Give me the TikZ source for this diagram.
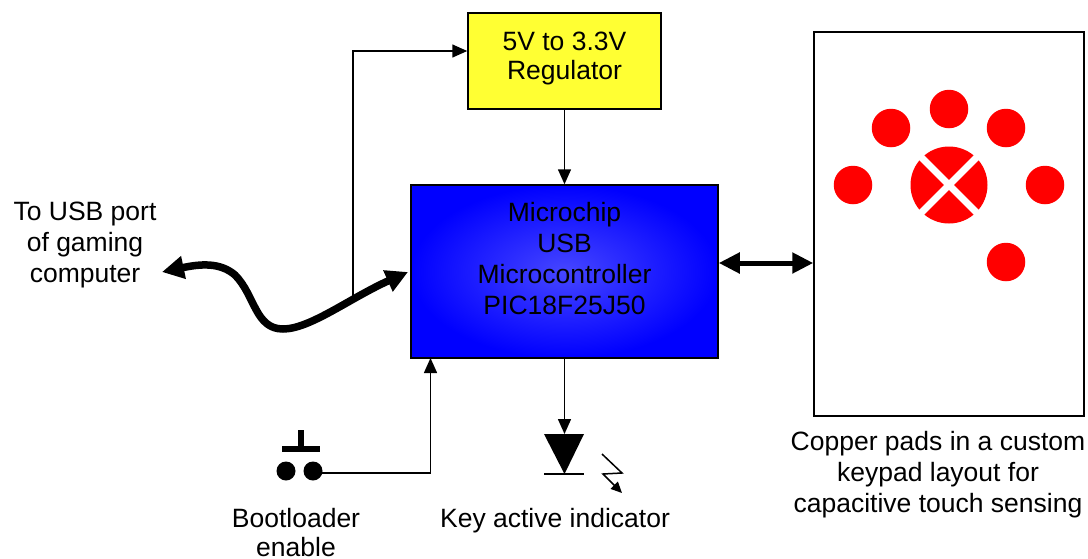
\documentclass[tikz,border=0pt]{standalone}
\usepackage{fontspec}
\setmainfont{Liberation Sans}
\usetikzlibrary{calc}
\usetikzlibrary{arrows.meta}

\begin{document}
\begin{tikzpicture}[x=1pt, y=-1pt,
        every node/.style={font=\fontsize{26.5}{31}\selectfont},
        box/.style={rectangle, draw=black, line width=1.5pt, inner sep=0pt},
        caption/.style={align=center, inner sep=0pt},
        pad/.style={circle, fill=red, inner sep=0pt, minimum size=38.5pt},
        thin tip/.style={line width=1.5pt, -{Triangle[length=15pt, width=13pt]}}]
            \useasboundingbox (0, 0) rectangle (1088, 558);
            \node[box, fill={rgb,255:red,255;green,255;blue,51}, minimum width=193pt, minimum height=96pt] (regulator) at (564.5, 61) {};
            \node[caption] (regulatortext) at ($(regulator.center) - (0, 3)$) {5V to 3.3V\\[-2pt]Regulator};
            \node[box, inner color={rgb,255:red,70;green,70;blue,255}, outer color=blue, minimum width=307pt, minimum height=173pt] (mcu) at (564.5, 271.5) {};
            \node[caption] (mcutext) at ($(mcu.center) - (0, 13)$) {Microchip\\USB\\Microcontroller\\PIC18F25J50};
            \node[box, minimum width=270pt, minimum height=384pt] (keypad) at (949, 224) {};

            \def\Pads{853/185, 891/128, 949/109, 1006/128, 1045/185, 1006/262}
            \foreach \x/\y[count=\i from 1] in \Pads
            {
                \node[pad] (pad\i) at (\x, \y) {};
            }
            \node[pad, minimum size=77pt] (keys) at (949, 185) {};
            \draw[white, line width=7pt] ($(keys) + (-32, -32)$) -- ($(keys) + (32, 32)$);
            \draw[white, line width=7pt] ($(keys) + (-32, 32)$) -- ($(keys) + (32, -32)$);

            \node[caption] (usblabel) at (85, 245) {To USB port\\of gaming\\computer};
            \node[caption] (keypadlabel) at (938, 475) {Copper pads in a custom\\keypad layout for\\capacitive touch sensing};
            \node[caption] (bootlabel) at (296, 533) {Bootloader\\[-2pt]enable};
            \node[caption] (ledlabel) at (555, 521) {Key active indicator};

            \coordinate (usbend) at (162, 272);
            \coordinate (mcuin) at (408, 272);
            \coordinate (usbtap) at (353, 296);
            \coordinate (usbbend) at (353, 51);
            \draw[line width=7.5pt, {Triangle[length=22pt, width=22pt]}-{Triangle[length=22pt, width=22pt]}] (usbend) .. controls (200, 264) and (220, 262) .. (235, 275) .. controls (255, 295) and (255, 329) .. (283, 329) .. controls (310, 329) and (350, 298) .. (mcuin);
            \draw[thin tip] (usbtap) -- (usbbend) -- (regulator.west |- usbbend);
            \draw[thin tip] (regulator.south) -- (mcu.north);
            \draw[line width=5pt, {Triangle[length=21pt, width=20pt]}-{Triangle[length=21pt, width=20pt]}] (mcu.east |- 0, 263) -- (keypad.west |- 0, 263);

            \node[circle, fill=black, inner sep=0pt, minimum size=19pt] (switcha) at (286, 471) {};
            \node[circle, fill=black, inner sep=0pt, minimum size=19pt] (switchb) at (313, 471) {};
            \coordinate (switchtop) at (301, 430);
            \coordinate (switchmid) at (301, 449);
            \coordinate (barleft) at (282, 449);
            \coordinate (barright) at (320, 449);
            \draw[line width=6pt] (barleft) -- (barright);
            \draw[line width=6pt] (switchtop) -- (switchmid);
            \coordinate (switchout) at (313, 473);
            \coordinate (mcubutton) at (430.5, 358);
            \draw[thin tip] (switchout) -| (mcubutton);

            \coordinate (ledtop) at (564.5, 434);
            \coordinate (ledleft) at (544, 434);
            \coordinate (ledright) at (584, 434);
            \coordinate (ledtip) at (564.5, 474);
            \fill[black] (ledleft) -- (ledright) -- (ledtip) -- cycle;
            \draw[line width=2.5pt] (ledleft |- ledtip) -- (ledright |- ledtip);
            \draw[thin tip] (mcu.south) -- (ledtop);

            \coordinate (bolta) at (602, 454);
            \coordinate (boltb) at (622, 473);
            \coordinate (boltc) at (603, 474);
            \coordinate (boltd) at (622, 493);
            \draw[line width=1.5pt, -{Triangle[length=11pt, width=10pt]}] (bolta) -- (boltb) -- (boltc) -- (boltd);
        \end{tikzpicture}
\end{document}
